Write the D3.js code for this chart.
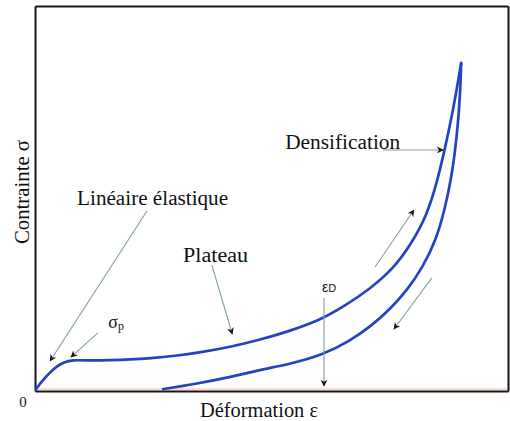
<!DOCTYPE html>
<html>
<head>
<meta charset="utf-8">
<script src="https://cdn.jsdelivr.net/npm/d3@7/dist/d3.min.js"></script>
<style>
  html, body { margin: 0; padding: 0; background: #fff; }
  svg { display: block; }
  text { font-family: "Liberation Serif", "Times New Roman", serif; fill: #111; }
</style>
</head>
<body>
<svg id="chart" width="510" height="421"></svg>
<script>
// ---- Data (schematic stress-strain curve of a foam, in % of axis range) ----
const loadStrain   = [0.2, 1.5, 3.2, 4.7, 6.1, 7.8, 11.6, 15.9, 20.1, 24.3, 29.6, 34.9, 41.2, 47.6, 53.9, 60.3, 65.5, 70.8, 75.7, 79.3, 82.9, 85.0, 86.5, 87.7, 89.0, 90.1];
const loadStress   = [0.5, 2.6, 4.9, 6.5, 7.5, 8.1, 7.9, 8.0, 8.2, 8.5, 9.1, 10.0, 11.4, 13.3, 15.6, 18.4, 22.1, 26.5, 31.7, 37.7, 45.7, 54.3, 62.1, 68.8, 77.1, 85.2];
const unloadStrain = [90.1, 89.9, 89.4, 88.8, 88.0, 86.7, 84.8, 82.0, 78.7, 75.1, 71.3, 66.6, 60.9, 53.9, 47.6, 41.2, 33.8, 27.1];
const unloadStress = [85.2, 77.4, 69.1, 62.1, 55.3, 47.5, 39.2, 32.2, 26.2, 21.3, 17.1, 13.0, 9.4, 7.0, 5.5, 3.6, 1.8, 0.5];

// annotation arrows in data units
const arrowNames = ["lineaire", "sigmaP", "plateau", "densif", "epsD", "up", "down"];
const arrowX1 = [23.7, 13.3, 37.4, 73.6, 61.1, 71.9, 83.9];
const arrowY1 = [46.8, 15.1, 32.7, 62.6, 24.2, 32.2, 29.4];
const arrowX2 = [3.2, 7.6, 41.7, 86.3, 61.1, 80.1, 75.9];
const arrowY2 = [7.8, 8.8, 14.8, 62.6, 1.3, 47.0, 16.1];

// text labels (start position in data units)
const labelTexts = ["Linéaire élastique", "Plateau", "Densification"];
const labelX = [8.9, 31.3, 52.9];
const labelY = [48.3, 33.5, 62.9];

const xTitle = "Déformation ε";
const yTitle = "Contrainte σ";
const originLabel = "0";

// ---- Layout ----
const svg = d3.select("#chart");
const mLeft = 35, mRight = 508, mTop = 6, mBottom = 391;
const x = d3.scaleLinear().domain([0, 100]).range([mLeft, mRight]);
const y = d3.scaleLinear().domain([0, 100]).range([mBottom, mTop]);

// marker
svg.append("defs").append("marker")
  .attr("id", "ah")
  .attr("viewBox", "0 0 10 10")
  .attr("refX", 9).attr("refY", 5)
  .attr("markerWidth", 7).attr("markerHeight", 7)
  .attr("markerUnits", "userSpaceOnUse")
  .attr("orient", "auto")
  .append("path")
  .attr("d", "M0,0 L10,5 L0,10 L3,5 Z")
  .attr("fill", "#1a1a1a");

// faint peach tint along the bottom axis
svg.append("line")
  .attr("x1", mLeft).attr("x2", mRight)
  .attr("y1", mBottom - 2).attr("y2", mBottom - 2)
  .attr("stroke", "#f9dccd").attr("stroke-width", 2);

// axes (frame)
const xAxis = d3.axisBottom(x).tickValues([]).tickSizeOuter(0);
const yAxis = d3.axisLeft(y).tickValues([]).tickSizeOuter(0);
const xAxisTop = d3.axisTop(x).tickValues([]).tickSizeOuter(0);
const yAxisRight = d3.axisRight(y).tickValues([]).tickSizeOuter(0);
svg.append("g").attr("transform", `translate(0,${mBottom})`).call(xAxis);
svg.append("g").attr("transform", `translate(${mLeft},0)`).call(yAxis);
svg.append("g").attr("transform", `translate(0,${mTop})`).call(xAxisTop);
svg.append("g").attr("transform", `translate(${mRight},0)`).call(yAxisRight);
svg.selectAll(".domain").attr("stroke", "#161616").attr("stroke-width", 2);

// curves
const line = d3.line().x(d => x(d[0])).y(d => y(d[1])).curve(d3.curveBasis);
const loadData = loadStrain.map((s, i) => [s, loadStress[i]]);
const unloadData = unloadStrain.map((s, i) => [s, unloadStress[i]]);
[loadData, unloadData].forEach(data => {
  svg.append("path")
    .datum(data)
    .attr("d", line)
    .attr("fill", "none")
    .attr("stroke", "#2343c0")
    .attr("stroke-width", 2.7)
    .attr("stroke-linecap", "round");
});

// arrows
svg.selectAll("line.arrow")
  .data(arrowNames)
  .enter().append("line")
  .attr("class", "arrow")
  .attr("x1", (d, i) => x(arrowX1[i]))
  .attr("y1", (d, i) => y(arrowY1[i]))
  .attr("x2", (d, i) => x(arrowX2[i]))
  .attr("y2", (d, i) => y(arrowY2[i]))
  .attr("stroke", "#7f9dab")
  .attr("stroke-width", 1.1)
  .attr("marker-end", "url(#ah)");

// labels
svg.selectAll("text.lbl")
  .data(labelTexts)
  .enter().append("text")
  .attr("class", "lbl")
  .attr("x", (d, i) => x(labelX[i]))
  .attr("y", (d, i) => y(labelY[i]))
  .attr("font-size", 20)
  .attr("textLength", (d, i) => [151, 65, 115][i])
  .attr("lengthAdjust", "spacingAndGlyphs")
  .text(d => d);

// sigma p
const sp = svg.append("text")
  .attr("x", x(15.5)).attr("y", y(16.4))
  .attr("font-size", 18);
sp.append("tspan").text("σ");
sp.append("tspan").attr("font-size", 12).attr("dy", 2).text("p");

// epsilon D
const ed = svg.append("text")
  .attr("x", x(60.7)).attr("y", y(25.7))
  .style("font-family", "'Liberation Sans', Arial, sans-serif")
  .attr("font-size", 14);
ed.append("tspan").text("ε");
ed.append("tspan").attr("font-size", 11).text("D");

// axis titles
svg.append("text")
  .attr("x", 200).attr("y", 417)
  .attr("font-size", 20)
  .attr("textLength", 118).attr("lengthAdjust", "spacingAndGlyphs")
  .text(xTitle);

svg.append("text")
  .attr("transform", "translate(29,192) rotate(-90)")
  .attr("text-anchor", "middle")
  .attr("font-size", 20)
  .attr("textLength", 104).attr("lengthAdjust", "spacingAndGlyphs")
  .text(yTitle);

svg.append("text")
  .attr("x", 23).attr("y", 407)
  .attr("text-anchor", "middle")
  .attr("font-size", 15)
  .text(originLabel);
</script>
</body>
</html>
